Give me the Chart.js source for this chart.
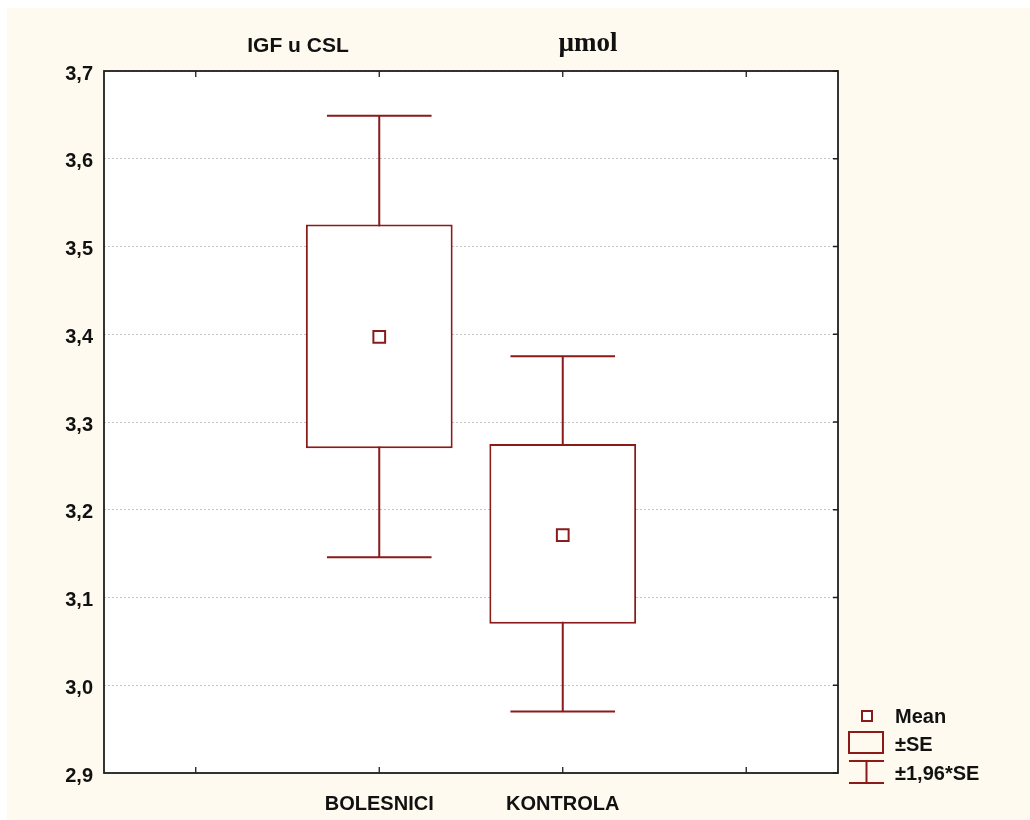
<!DOCTYPE html>
<html>
<head>
<meta charset="utf-8">
<script src="https://cdn.jsdelivr.net/npm/chart.js@4/dist/chart.umd.min.js"></script>
<style>
  html, body { margin: 0; padding: 0; background: #fff; }
  #wrap { width: 1030px; height: 820px; }
</style>
</head>
<body>
<div id="wrap"><canvas id="chart" width="1030" height="820"></canvas></div>
<script>
// groups (blank slots left and right, like the original plot)
var categories = ['', 'BOLESNICI', 'KONTROLA', ''];
var means  = [null, 3.397, 3.171, null];
var seLow  = [null, 3.270, 3.070, null];
var seHigh = [null, 3.525, 3.275, null];
var ciLow  = [null, 3.146, 2.970, null];
var ciHigh = [null, 3.649, 3.375, null];
var yTicks = [2.9, 3.0, 3.1, 3.2, 3.3, 3.4, 3.5, 3.6, 3.7];

var RED = '#8b1a1a';
var CREAM = '#fffaef';
var SANS = '"Liberation Sans", Arial, sans-serif';
var LW = 2;

var boxes = categories.map(function (c, i) {
  return seLow[i] == null ? null : [seLow[i], seHigh[i]];
});

var decor = {
  id: 'decor',
  beforeDraw: function (chart) {
    var ctx = chart.ctx;
    ctx.save();
    ctx.fillStyle = '#fff';
    ctx.fillRect(0, 0, chart.width, chart.height);
    ctx.fillStyle = CREAM;
    ctx.fillRect(7, 8, chart.width - 7, chart.height - 8);
    var a = chart.chartArea;
    ctx.fillStyle = '#fff';
    ctx.fillRect(a.left, a.top, a.right - a.left, a.bottom - a.top);
    ctx.restore();
  },
  beforeDatasetsDraw: function (chart) {
    // whiskers (±1,96*SE), box covers the middle of the stem
    var ctx = chart.ctx, x = chart.scales.x, y = chart.scales.y;
    var capHalf = (x.getPixelForValue(1) - x.getPixelForValue(0)) * 0.285;
    ctx.save();
    ctx.strokeStyle = RED;
    ctx.lineWidth = LW;
    for (var i = 0; i < categories.length; i++) {
      if (ciLow[i] == null) continue;
      var cx = x.getPixelForValue(i);
      var yl = y.getPixelForValue(ciLow[i]), yh = y.getPixelForValue(ciHigh[i]);
      ctx.beginPath();
      ctx.moveTo(cx, yl); ctx.lineTo(cx, yh);
      ctx.moveTo(cx - capHalf, yl); ctx.lineTo(cx + capHalf, yl);
      ctx.moveTo(cx - capHalf, yh); ctx.lineTo(cx + capHalf, yh);
      ctx.stroke();
    }
    ctx.restore();
  },
  afterDraw: function (chart) {
    var ctx = chart.ctx, a = chart.chartArea, x = chart.scales.x, y = chart.scales.y;
    ctx.save();
    // frame and inner ticks
    ctx.strokeStyle = '#1e1e1e';
    ctx.lineWidth = 1.8;
    ctx.strokeRect(a.left, a.top, a.right - a.left, a.bottom - a.top);
    ctx.lineWidth = 1.3;
    ctx.beginPath();
    for (var i = 0; i < categories.length; i++) {
      var px = x.getPixelForValue(i);
      ctx.moveTo(px, a.top); ctx.lineTo(px, a.top + 6);
      ctx.moveTo(px, a.bottom); ctx.lineTo(px, a.bottom - 6);
    }
    yTicks.forEach(function (v) {
      var py = y.getPixelForValue(v);
      ctx.moveTo(a.right, py); ctx.lineTo(a.right - 5, py);
    });
    ctx.stroke();

    // titles
    ctx.fillStyle = '#111';
    ctx.textBaseline = 'alphabetic';
    ctx.textAlign = 'center';
    ctx.font = 'bold 21px ' + SANS;
    ctx.fillText('IGF u CSL', 298, 52);
    ctx.font = 'bold 27px "Liberation Serif", "Times New Roman", serif';
    ctx.fillText('\u00b5mol', 588, 51);

    // legend
    ctx.strokeStyle = RED;
    ctx.lineWidth = LW;
    ctx.fillStyle = '#fff';
    ctx.fillRect(862, 711, 10, 10);
    ctx.strokeRect(862, 711, 10, 10);
    ctx.strokeRect(849, 732, 34, 21);
    ctx.beginPath();
    ctx.moveTo(849, 761); ctx.lineTo(884, 761);
    ctx.moveTo(849, 783); ctx.lineTo(884, 783);
    ctx.moveTo(866.5, 761); ctx.lineTo(866.5, 783);
    ctx.stroke();
    ctx.fillStyle = '#111';
    ctx.textAlign = 'left';
    ctx.textBaseline = 'middle';
    ctx.font = 'bold 20px ' + SANS;
    ctx.fillText('Mean', 895, 717);
    ctx.fillText('\u00b1SE', 895, 745);
    ctx.fillText('\u00b11,96*SE', 895, 774);
    ctx.restore();
  }
};

var chart = new Chart(document.getElementById('chart'), {
  type: 'bar',
  data: {
    labels: categories,
    datasets: [{
      data: boxes,
      backgroundColor: '#fff',
      borderColor: RED,
      borderWidth: LW,
      borderSkipped: false,
      barPercentage: 0.8,
      categoryPercentage: 1.0,
      order: 2
    }, {
      type: 'line',
      data: means,
      showLine: false,
      pointStyle: 'rect',
      pointRadius: 8.3,
      pointBorderWidth: LW,
      pointBackgroundColor: '#fff',
      pointBorderColor: RED,
      order: 1
    }]
  },
  options: {
    responsive: false,
    animation: false,
    layout: { padding: { left: 0, top: 71, right: 192, bottom: 0 } },
    plugins: {
      legend: { display: false },
      tooltip: { enabled: false }
    },
    scales: {
      x: {
        type: 'category',
        offset: true,
        grid: { display: false },
        border: { display: false },
        ticks: {
          padding: 11,
          color: '#111',
          font: { family: SANS, size: 20, weight: 'bold' },
          maxRotation: 0,
          autoSkip: false
        },
        afterFit: function (s) { s.height = 47; }
      },
      y: {
        min: 2.9,
        max: 3.7,
        border: { display: false, dash: [2, 2] },
        afterBuildTicks: function (s) {
          s.ticks = yTicks.map(function (v) { return { value: v }; });
        },
        grid: {
          drawTicks: false,
          color: '#c4c4c4',
          lineWidth: 1
        },
        ticks: {
          padding: 11,
          labelOffset: 3,
          color: '#111',
          font: { family: SANS, size: 20, weight: 'bold' },
          callback: function (v) { return v.toFixed(1).replace('.', ','); }
        },
        afterFit: function (s) { s.width = 104; }
      }
    }
  },
  plugins: [decor]
});
</script>
</body>
</html>
